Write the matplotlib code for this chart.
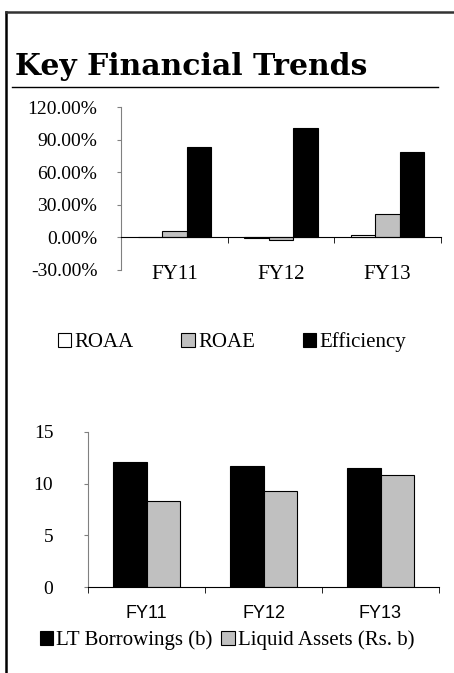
import matplotlib
matplotlib.use("Agg")
import matplotlib.pyplot as plt
from matplotlib.lines import Line2D
from matplotlib.patches import Patch
from matplotlib.ticker import FuncFormatter, FixedLocator
import numpy as np

# data
years = ["FY11", "FY12", "FY13"]
roaa = [0.8, -0.3, 2.5]
roae = [5.8, -2.8, 21.5]
efficiency = [83.0, 101.0, 78.5]
lt_borrowings = [12.05, 11.75, 11.5]
liquid_assets = [8.3, 9.3, 10.8]

W, H = 454, 673
fig = plt.figure(figsize=(W / 100, H / 100), dpi=100)
serif = "Liberation Serif"


def box(l, t, r, b):
    return [l / W, 1 - b / H, (r - l) / W, (b - t) / H]


# frame lines and title
fig.add_artist(Line2D([6 / W, 6 / W], [0, 1 - 12 / H], color="black", lw=1.8))
fig.add_artist(Line2D([6 / W, 1], [1 - 12 / H, 1 - 12 / H], color="#333333", lw=1.8))
fig.add_artist(Line2D([12 / W, 438 / W], [1 - 87 / H, 1 - 87 / H], color="black", lw=1))
fig.text(15 / W, 1 - 75 / H, "Key Financial Trends", family="DejaVu Serif",
         weight="bold", fontsize=21.5, va="baseline", ha="left")


def style_axes(ax, pad_x, pad_y):
    for s in ("top", "right"):
        ax.spines[s].set_visible(False)
    ax.spines["left"].set_color("#808080")
    ax.spines["bottom"].set_position(("data", 0))
    ax.spines["bottom"].set_color("black")
    ax.set_xlim(-0.5, 2.5)
    ax.set_xticks(range(3))
    ax.xaxis.set_minor_locator(FixedLocator([-0.5, 0.5, 1.5, 2.5]))
    ax.tick_params(axis="x", which="major", length=0, pad=pad_x)
    ax.tick_params(axis="x", which="minor", length=4, color="black", direction="out")
    ax.tick_params(axis="y", length=3, color="#808080", direction="out", pad=pad_y)


# top chart
ax1 = fig.add_axes(box(121, 107, 441, 270))
x = np.arange(len(years))
bw = 0.229
ax1.bar(x - bw, roaa, bw, color="white", edgecolor="black", lw=0.8)
ax1.bar(x, roae, bw, color="#c0c0c0", edgecolor="black", lw=0.8)
ax1.bar(x + bw, efficiency, bw, color="black", edgecolor="black", lw=0.8)
ax1.set_ylim(-30, 120)
ax1.set_yticks(np.arange(-30, 121, 30))
ax1.yaxis.set_major_formatter(FuncFormatter(lambda v, p: f"{v:.2f}%"))
style_axes(ax1, 20, 14)
ax1.set_xticklabels(years, family=serif, fontsize=15)
for t in ax1.get_yticklabels():
    t.set_family(serif)
    t.set_fontsize(14)

leg1 = [Patch(facecolor=c, edgecolor="black", lw=0.8) for c in ("white", "#c0c0c0", "black")]
fig.legend(leg1, ["ROAA", "ROAE", "Efficiency"], loc="center",
           bbox_to_anchor=(232 / W, 1 - 342 / H), ncol=3, frameon=False,
           prop={"family": serif, "size": 15}, handlelength=0.65, handleheight=0.65,
           handletextpad=0.15, columnspacing=2.3)

# bottom chart
ax2 = fig.add_axes(box(88, 432, 439, 587))
bw2 = 0.29
ax2.bar(x - bw2 / 2, lt_borrowings, bw2, color="black", edgecolor="black", lw=0.8)
ax2.bar(x + bw2 / 2, liquid_assets, bw2, color="#c0c0c0", edgecolor="black", lw=0.8)
ax2.set_ylim(0, 15)
ax2.set_yticks([0, 5, 10, 15])
style_axes(ax2, 13, 22)
ax2.set_xticklabels(years, family="Liberation Sans", fontsize=13)
for t in ax2.get_yticklabels():
    t.set_family(serif)
    t.set_fontsize(14)

leg2 = [Patch(facecolor=c, edgecolor="black", lw=0.8) for c in ("black", "#c0c0c0")]
fig.legend(leg2, ["LT Borrowings (b)", "Liquid Assets (Rs. b)"], loc="center",
           bbox_to_anchor=(227 / W, 1 - 640 / H), ncol=2, frameon=False,
           prop={"family": serif, "size": 15}, handlelength=0.65, handleheight=0.65,
           handletextpad=0.15, columnspacing=0.4)

fig.savefig("out.png", dpi=100)
